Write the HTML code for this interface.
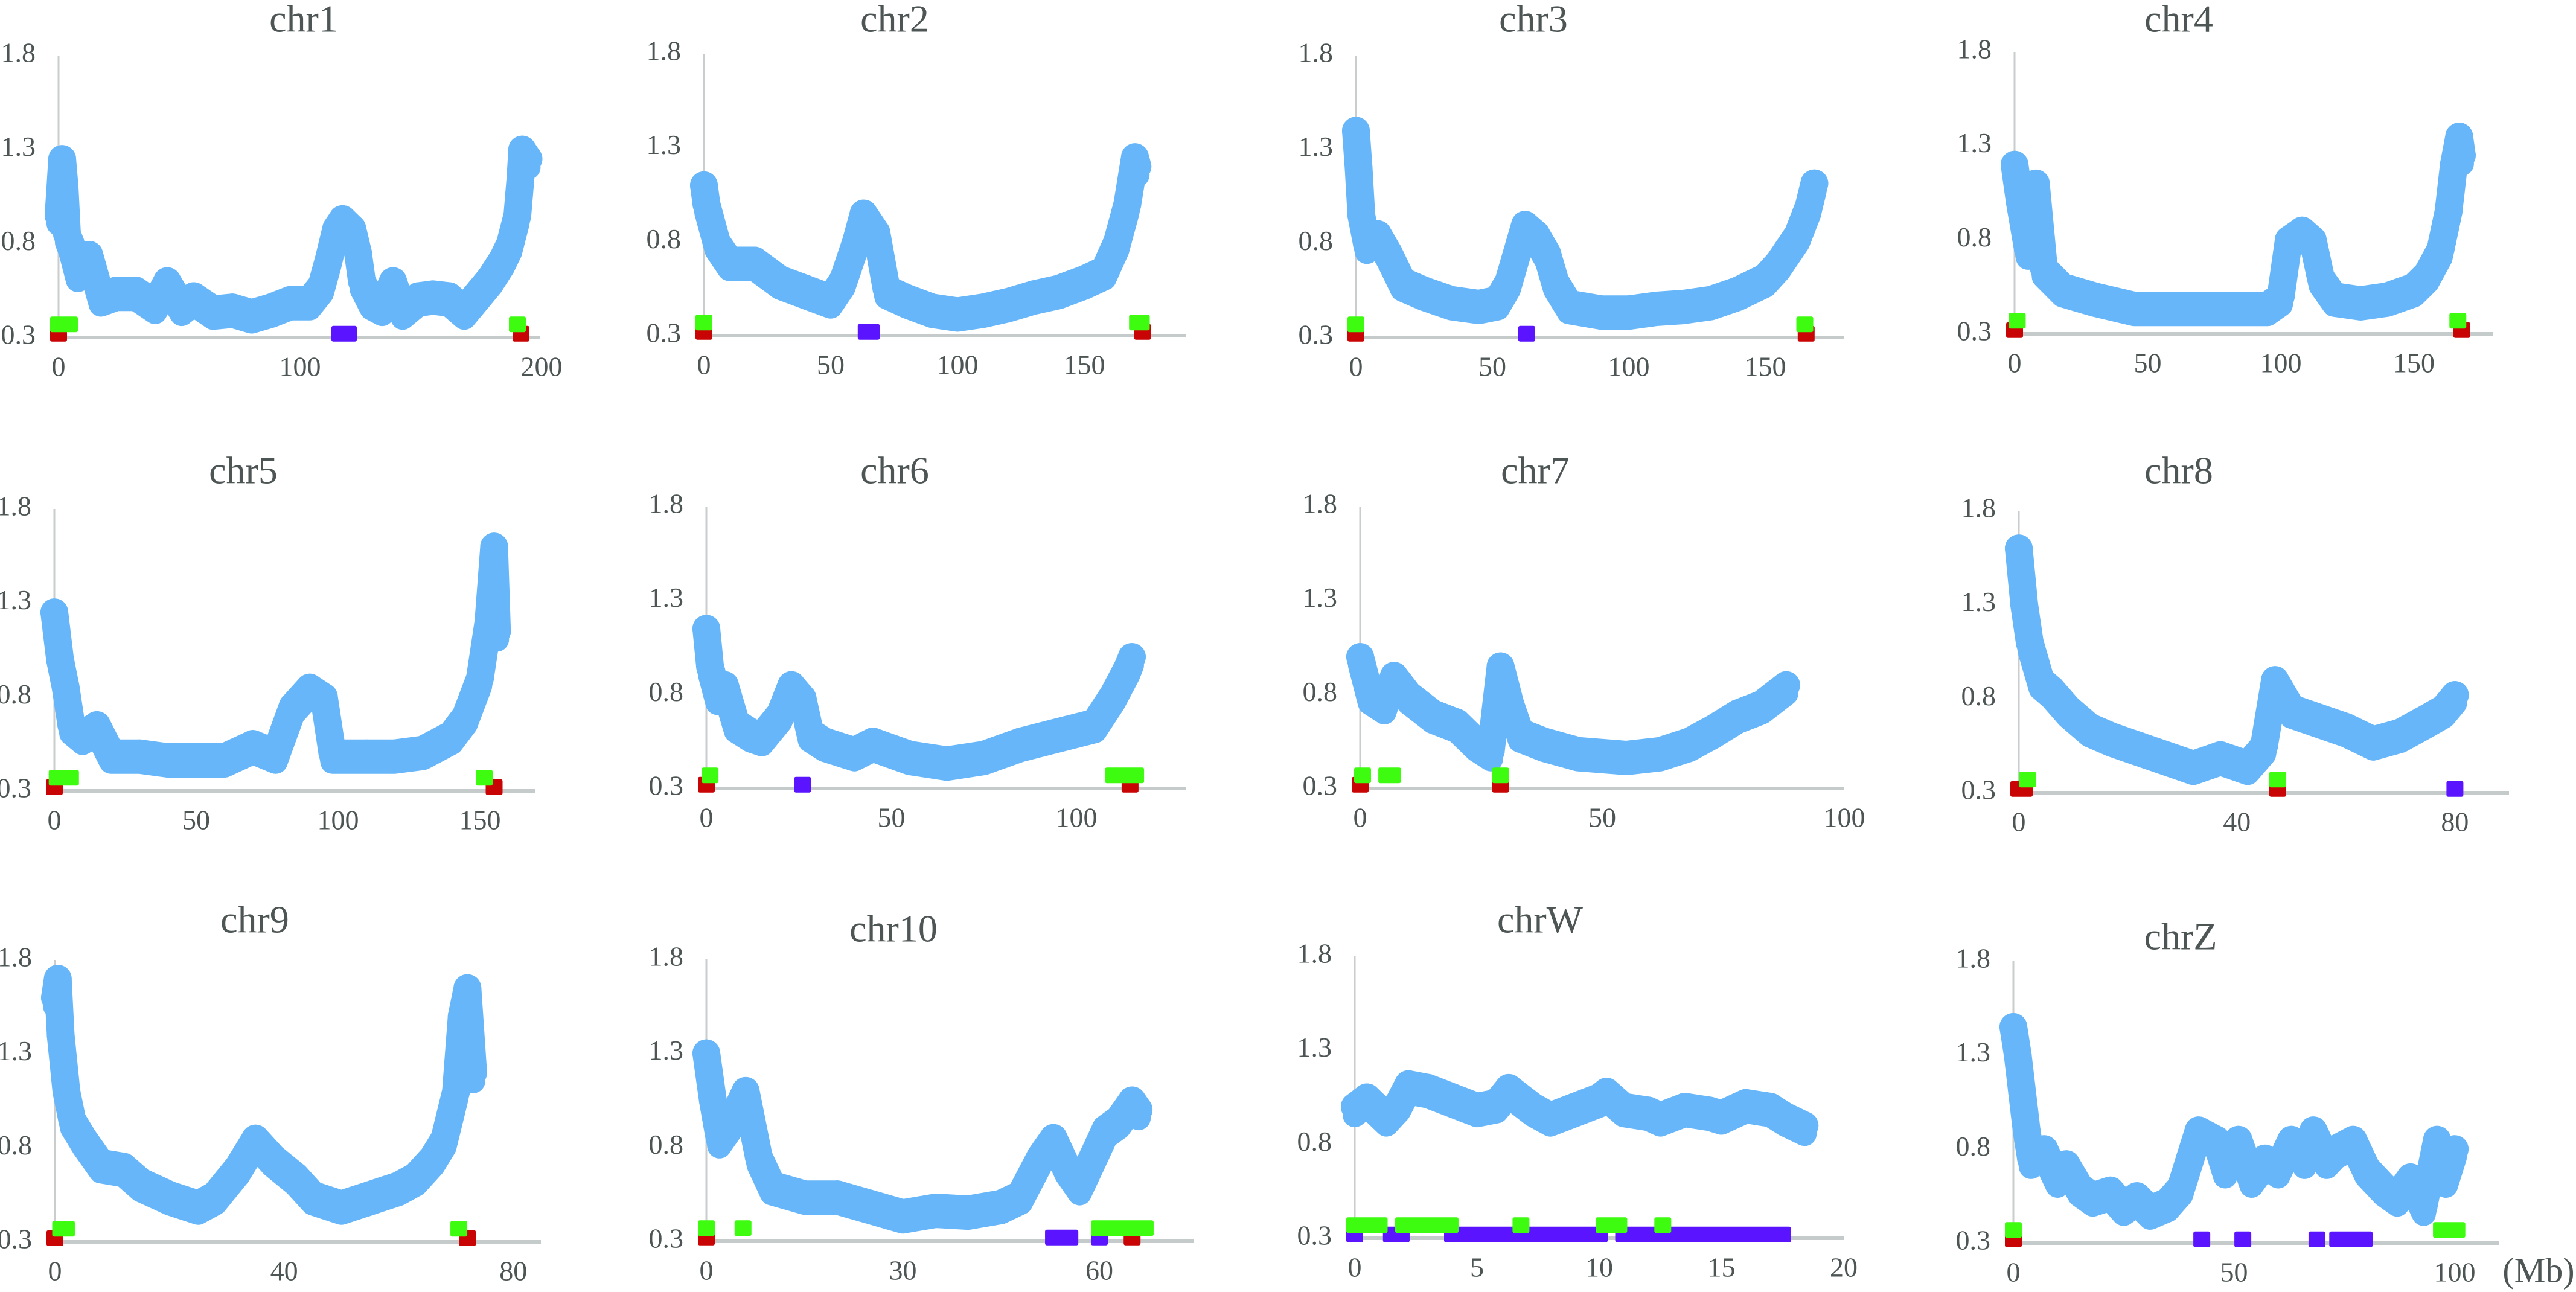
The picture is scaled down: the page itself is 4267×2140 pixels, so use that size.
<!DOCTYPE html>
<html>
<head>
<meta charset="utf-8">
<style>
  html,body{margin:0;padding:0;background:#fff;}
  svg{display:block;}
  text{font-family:"Liberation Serif",serif;fill:#4d5555;}
</style>
</head>
<body>
<svg id="fig" width="4267" height="2140" viewBox="0 0 4267 2140" xmlns="http://www.w3.org/2000/svg">
  <text x="4205" y="2110" font-size="58" text-anchor="middle" dominant-baseline="middle">(Mb)</text>
</svg>
<script>
// ---- data (Mb positions, depth values, marker intervals [start,end] in Mb) ----
const chr1Pos = [0,0.5,1.5,2.5,3.5,5,8,12.7,17.5,24,32,40,45,51,56,64,72,80,88,96,104,109,112,115,117.6,121.6,124,125.6,129.6,134,138.5,142.5,149,155,161.7,168,174.5,179,184,187,190,191.3,192,194.6];
const chr1Val = [0.95,1.05,1.25,1.1,0.85,0.8,0.65,0.74,0.52,0.55,0.55,0.48,0.6,0.47,0.52,0.45,0.46,0.43,0.46,0.5,0.5,0.58,0.72,0.88,0.93,0.88,0.75,0.6,0.5,0.47,0.6,0.45,0.52,0.53,0.52,0.45,0.55,0.62,0.72,0.8,0.95,1.15,1.3,1.25];
const chr1Red = [[0,0],[191.5,191.5]];
const chr1Green = [[0,4.5],[190,190]];
const chr1Purple = [[116.5,120]];

const chr2Pos = [0,1,5,10,20,25,30,40,50,55,60,63,68,72,80,90,100,110,120,130,140,150,158,163,167,170,171];
const chr2Val = [1.1,1.0,0.8,0.7,0.7,0.65,0.6,0.55,0.5,0.6,0.8,0.95,0.85,0.55,0.5,0.45,0.43,0.45,0.48,0.52,0.55,0.6,0.65,0.8,1.0,1.25,1.2];
const chr2Red = [[0,0],[173,173]];
const chr2Green = [[0,0],[171,172.5]];
const chr2Purple = [[64,66]];

const chr3Pos = [0,1,2,4,8,12,17,25,35,45,52,56,60,62,66,70,73,78,90,100,110,120,130,140,150,155,162,166,168];
const chr3Val = [1.4,1.2,0.95,0.8,0.85,0.75,0.6,0.55,0.5,0.48,0.5,0.6,0.8,0.9,0.85,0.75,0.6,0.48,0.45,0.45,0.47,0.48,0.5,0.55,0.62,0.7,0.85,1.0,1.12];
const chr3Red = [[0,0],[165,165]];
const chr3Green = [[0,0],[164.5,164.5]];
const chr3Purple = [[62.6,62.6]];

const chr4Pos = [0,2,5,8,11,18,30,45,60,80,95,100,103,108,112,115,120,130,140,150,155,160,163,165,167,168];
const chr4Val = [1.2,1.0,0.75,1.1,0.65,0.55,0.5,0.45,0.45,0.45,0.45,0.5,0.8,0.85,0.8,0.6,0.5,0.48,0.5,0.55,0.62,0.75,0.95,1.2,1.35,1.25];
const chr4Red = [[0,0],[168,168]];
const chr4Green = [[1,1],[166.5,166.5]];
const chr4Purple = [];

const chr5Pos = [0,2,4,6,10,15,20,30,40,50,60,70,78,84,90,95,98,110,120,130,140,145,150,153,155,156];
const chr5Val = [1.25,1.0,0.85,0.65,0.6,0.65,0.5,0.5,0.48,0.48,0.48,0.55,0.5,0.75,0.85,0.8,0.5,0.5,0.5,0.52,0.6,0.7,0.9,1.2,1.6,1.15];
const chr5Red = [[0,0],[155,155]];
const chr5Green = [[1,5.7],[151.5,151.5]];
const chr5Purple = [];

const chr6Pos = [0,1,3,5,8,12,15,20,23,26,28,32,40,45,55,65,75,85,95,105,110,114,115];
const chr6Val = [1.15,0.95,0.8,0.85,0.65,0.6,0.58,0.7,0.85,0.78,0.6,0.55,0.5,0.55,0.48,0.45,0.48,0.55,0.6,0.65,0.8,0.95,1.0];
const chr6Red = [[0,0],[114.5,114.5]];
const chr6Green = [[1,1],[110,116]];
const chr6Purple = [[26,26]];

const chr7Pos = [0,2,5,7,10,15,20,24,27,29,31,33,38,45,55,62,68,73,78,83,88];
const chr7Val = [1.0,0.8,0.75,0.9,0.8,0.7,0.65,0.55,0.5,0.95,0.75,0.6,0.55,0.5,0.48,0.5,0.55,0.62,0.7,0.75,0.85];
const chr7Red = [[0,0],[29,29]];
const chr7Green = [[0.5,0.5],[5.5,6.7],[29,29]];
const chr7Purple = [];

const chr8Pos = [0,1,2,4,6,9,13,17,22,27,32,37,42,45,47,50,55,60,65,70,75,78,80];
const chr8Val = [1.6,1.3,1.1,0.9,0.85,0.75,0.65,0.6,0.55,0.5,0.45,0.5,0.45,0.55,0.9,0.75,0.7,0.65,0.58,0.62,0.7,0.75,0.82];
const chr8Red = [[0,1],[47.5,47.5]];
const chr8Green = [[1.6,1.6],[47.5,47.5]];
const chr8Purple = [[80,80]];

const chr9Pos = [0,0.5,1,2,3,5,8,12,15,20,25,28,32,35,38,42,45,50,55,60,63,66,68,70,71,72,73];
const chr9Val = [1.6,1.7,1.4,1.1,0.95,0.85,0.72,0.7,0.62,0.55,0.5,0.55,0.7,0.85,0.75,0.65,0.55,0.5,0.55,0.6,0.65,0.75,0.85,1.1,1.5,1.65,1.2];
const chr9Red = [[0,0],[72,72]];
const chr9Green = [[1,2],[70.5,70.5]];
const chr9Purple = [];

const chr10Pos = [0,1,2,4,6,8,10,15,20,25,30,35,40,45,48,51,53,55,57,59,61,63,65,66];
const chr10Val = [1.3,1.05,0.85,0.95,1.1,0.75,0.6,0.55,0.55,0.5,0.45,0.48,0.47,0.5,0.55,0.75,0.85,0.7,0.6,0.75,0.9,0.95,1.05,1.0];
const chr10Red = [[0,0],[65,65]];
const chr10Green = [[0,0],[5.6,5.6],[60,67]];
const chr10Purple = [[53,55.5],[60,60]];

const chrWPos = [0,0.5,1.3,1.8,2.2,3,4,5,5.8,6.3,7.3,8,9,10,10.3,11,12,12.5,13.5,14.5,15,16,17,17.6,18.4];
const chrWVal = [1.0,1.05,0.95,1.02,1.12,1.1,1.05,1.0,1.02,1.1,1.0,0.95,1.0,1.05,1.08,1.0,0.98,0.95,1.0,0.98,0.96,1.02,1.0,0.95,0.9];
const chrWRed = [];
const chrWGreen = [[0,1],[2,3.9],[6.8,6.8],[10.2,10.8],[12.6,12.6]];
const chrWPurple = [[0,0],[1.5,1.9],[4,10],[11,17.5]];

const chrZPos = [0,1,2,3,4,7,10,12,15,18,22,25,28,31,35,38,40,42,46,48,51,54,57,60,63,66,68,71,73,77,80,84,87,90,93,96,98,100];
const chrZVal = [1.45,1.3,1.1,0.9,0.75,0.8,0.65,0.72,0.6,0.55,0.58,0.5,0.55,0.48,0.52,0.6,0.75,0.9,0.85,0.7,0.85,0.65,0.75,0.7,0.85,0.75,0.9,0.75,0.8,0.85,0.7,0.6,0.55,0.65,0.5,0.85,0.65,0.8];
const chrZRed = [[0,0]];
const chrZGreen = [[0,0],[97,100.5]];
const chrZPurple = [[42.7,42.7],[52,52],[68.8,68.8],[73.5,79.5]];

const yTickLabels = ["0.3","0.8","1.3","1.8"];
const yTickValues = [0.3,0.8,1.3,1.8];
const chrNames = ["chr1","chr2","chr3","chr4","chr5","chr6","chr7","chr8","chr9","chr10","chrW","chrZ"];
const xTickLabels = {
  chr1:[0,100,200], chr2:[0,50,100,150], chr3:[0,50,100,150], chr4:[0,50,100,150],
  chr5:[0,50,100,150], chr6:[0,50,100], chr7:[0,50,100], chr8:[0,40,80],
  chr9:[0,40,80], chr10:[0,30,60], chrW:[0,5,10,15,20], chrZ:[0,50,100]
};

// ---- layout (pixels) ----
const layout = {
  chr1:{ax:97,  base:559, end:895,  ppm:4.0,  tx:503,  ty:38},
  chr2:{ax:1166,base:556, end:1965, ppm:4.2,  tx:1482, ty:38},
  chr3:{ax:2246,base:559, end:3054, ppm:4.52, tx:2540, ty:38},
  chr4:{ax:3337,base:553, end:4129, ppm:4.41, tx:3609, ty:38},
  chr5:{ax:90,  base:1310,end:887,  ppm:4.7,  tx:403,  ty:786},
  chr6:{ax:1170,base:1306,end:1965, ppm:6.13, tx:1482, ty:786},
  chr7:{ax:2253,base:1306,end:3055, ppm:8.02, tx:2543, ty:786},
  chr8:{ax:3344,base:1313,end:4156, ppm:9.03, tx:3609, ty:786},
  chr9:{ax:91,  base:2057,end:896,  ppm:9.49, tx:422,  ty:1530},
  chr10:{ax:1170,base:2056,end:1978,ppm:10.85,tx:1480, ty:1545},
  chrW:{ax:2244,base:2051,end:3054, ppm:40.5, tx:2551, ty:1530},
  chrZ:{ax:3335,base:2059,end:4140, ppm:7.31, tx:3612, ty:1558}
};
const dataSets = {
  chr1:[chr1Pos,chr1Val,chr1Red,chr1Green,chr1Purple],
  chr2:[chr2Pos,chr2Val,chr2Red,chr2Green,chr2Purple],
  chr3:[chr3Pos,chr3Val,chr3Red,chr3Green,chr3Purple],
  chr4:[chr4Pos,chr4Val,chr4Red,chr4Green,chr4Purple],
  chr5:[chr5Pos,chr5Val,chr5Red,chr5Green,chr5Purple],
  chr6:[chr6Pos,chr6Val,chr6Red,chr6Green,chr6Purple],
  chr7:[chr7Pos,chr7Val,chr7Red,chr7Green,chr7Purple],
  chr8:[chr8Pos,chr8Val,chr8Red,chr8Green,chr8Purple],
  chr9:[chr9Pos,chr9Val,chr9Red,chr9Green,chr9Purple],
  chr10:[chr10Pos,chr10Val,chr10Red,chr10Green,chr10Purple],
  chrW:[chrWPos,chrWVal,chrWRed,chrWGreen,chrWPurple],
  chrZ:[chrZPos,chrZVal,chrZRed,chrZGreen,chrZPurple]
};

const NS = "http://www.w3.org/2000/svg";
const svg = document.getElementById("fig");
function mk(tag, attrs, parent){
  const e = document.createElementNS(NS, tag);
  for (const k in attrs) e.setAttribute(k, attrs[k]);
  parent.appendChild(e);
  return e;
}
const PLOT_H = 467, YMIN = 0.3, YMAX = 1.8, HALF = 14;

chrNames.forEach(name => {
  const L = layout[name];
  const [pos, val, red, green, purple] = dataSets[name];
  const xs = v => L.ax + v * L.ppm;
  const ys = v => L.base - (v - YMIN) / (YMAX - YMIN) * PLOT_H;

  const g = mk("g", {}, svg);
  
  

  const title = mk("text", {x:L.tx, y:L.ty, "font-size":64, "text-anchor":"middle", "dominant-baseline":"middle"}, g);
  title.textContent = name;
  
  

  const yAxis = mk("line", {x1:L.ax, y1:ys(YMAX), x2:L.ax, y2:L.base, stroke:"#c9cdcd", "stroke-width":3}, g);
  
  

  yTickValues.forEach((tv, i) => {
    const t = mk("text", {x:L.ax - 38, y:ys(tv), "font-size":46, "text-anchor":"end", "dominant-baseline":"middle"}, g);
    t.textContent = yTickLabels[i];
    
    
  });

  // blue coverage series (dense dot band)
  let d = "";
  pos.forEach((p, i) => { d += (i ? "L" : "M") + xs(p).toFixed(1) + " " + ys(val[i]).toFixed(1); });
  const line = mk("path", {d:d, fill:"none", stroke:"#66b6f9", "stroke-width":46, "stroke-linejoin":"round", "stroke-linecap":"round"}, g);
  
  
  const line2 = mk("path", {d:d, fill:"none", stroke:"#66b6f9", "stroke-width":40, "stroke-linejoin":"round", "stroke-linecap":"round", transform:"translate(0,14)"}, g);
  
  
  pos.forEach((p, i) => {
    const c = mk("circle", {cx:xs(p), cy:ys(val[i]), r:23, fill:"#66b6f9"}, g);
    
    
  });

  const xAxis = mk("line", {x1:L.ax, y1:L.base, x2:L.end, y2:L.base, stroke:"#c5cbca", "stroke-width":6}, g);
  
  

  xTickLabels[name].forEach(tv => {
    const t = mk("text", {x:xs(tv), y:L.base + 53, "font-size":46, "text-anchor":"middle", "dominant-baseline":"middle"}, g);
    t.textContent = String(tv);
    
    
  });

  function drawMarks(list, color, yv, label){
    list.forEach(iv => {
      const x0 = xs(iv[0]) - HALF, x1 = xs(iv[1]) + HALF;
      const yc = ys(yv);
      const r = mk("rect", {x:x0, y:yc - 13, width:x1 - x0, height:26, rx:3, fill:color}, g);
      
      
    });
  }
  drawMarks(red, "#c80404", 0.32, "red");
  drawMarks(purple, "#5a14ff", 0.32, "purple");
  drawMarks(green, "#3efc10", 0.37, "green");
});
</script>
</body>
</html>
